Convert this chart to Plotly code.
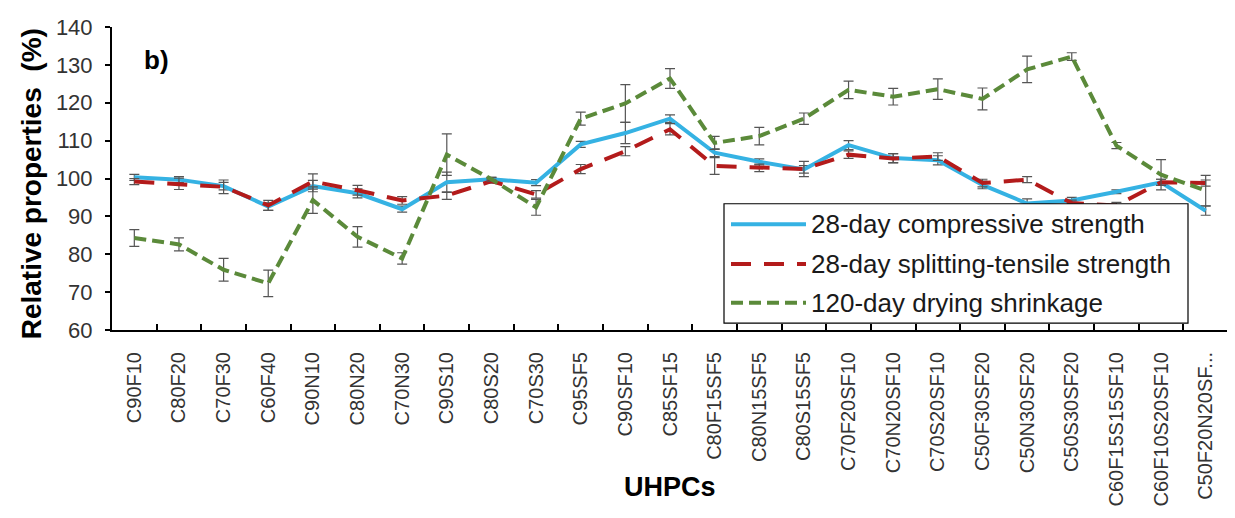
import plotly.graph_objects as go

categories = ["C90F10", "C80F20", "C70F30", "C60F40", "C90N10", "C80N20", "C70N30",
              "C90S10", "C80S20", "C70S30", "C95SF5", "C90SF10", "C85SF15",
              "C80F15SF5", "C80N15SF5", "C80S15SF5", "C70F20SF10", "C70N20SF10",
              "C70S20SF10", "C50F30SF20", "C50N30SF20", "C50S30SF20",
              "C60F15S15SF10", "C60F10S20SF10", "C50F20N20SF..."]

compressive = [100.3, 99.7, 98.0, 92.6, 98.0, 96.1, 91.9, 99.0, 99.8, 98.9, 109.0, 112.0, 115.8,
               106.8, 104.4, 102.4, 108.8, 105.4, 104.8, 98.3, 93.4, 94.2, 96.5, 99.0, 91.5]
compressive_err = [0.8, 0.8, 1.0, 1.0, 1.5, 1.2, 0.8, 2.7, 0.5, 0.8, 0.8, 2.8, 1.0,
                   1.0, 0.8, 1.0, 1.2, 1.2, 1.2, 1.0, 1.2, 0.8, 0.5, 0.8, 1.2]

tensile = [99.2, 98.6, 97.8, 92.9, 99.2, 96.9, 94.2, 95.5, 99.3, 95.8, 102.5, 107.2, 113.0,
           103.3, 102.8, 102.5, 106.3, 105.3, 105.8, 98.8, 99.7, 93.5, 92.9, 99.0, 98.8]
tensile_err = [0.8, 1.5, 1.8, 1.3, 2.0, 1.3, 1.0, 1.0, 0.5, 1.0, 1.2, 1.2, 1.5,
               2.2, 1.0, 2.0, 1.0, 1.2, 1.0, 1.0, 0.8, 0.8, 0.8, 0.8, 0.8]

shrinkage = [84.3, 82.6, 75.9, 72.3, 94.3, 84.6, 78.9, 106.3, 99.8, 92.4, 115.8, 119.8, 126.4,
             109.4, 111.2, 115.8, 123.4, 121.6, 123.6, 121.0, 128.8, 132.2, 108.7, 101.0, 96.8]
shrinkage_err = [2.2, 1.7, 3.0, 3.5, 3.5, 2.7, 1.5, 5.5, 0.5, 2.1, 1.7, 5.0, 2.6,
                 1.7, 2.3, 1.5, 2.3, 2.2, 2.7, 2.9, 3.5, 1.0, 0.8, 4.0, 4.0]

series_names = ["28-day compressive strength", "28-day splitting-tensile strength",
                "120-day drying shrinkage"]
y_ticks = [60, 70, 80, 90, 100, 110, 120, 130, 140]

colors = ["#35B2E3", "#B31B1B", "#5B8A3A"]
dashes = ["solid", "20px,13px", "12px,6px"]
FONT = "Arial, Liberation Sans, sans-serif"

fig = go.Figure()
for name, vals, errs, col, dash in zip(series_names, [compressive, tensile, shrinkage],
                                       [compressive_err, tensile_err, shrinkage_err],
                                       colors, dashes):
    fig.add_trace(go.Scatter(
        x=categories, y=vals, mode="lines", name=name,
        line=dict(color=col, width=4, dash=dash),
        error_y=dict(type="data", array=errs, visible=True, color="#555555",
                     thickness=1.2, width=5),
        showlegend=False,
    ))

# Geometry: the page body has an 8px default margin, so compensate.
OFF = 8
W, H = 1235 - OFF, 518 - OFF
ML, MR, MT, MB = 104, 7, 10, 188
PW, PH = W - ML - MR, H - MT - MB


def xp(px):
    return (px - OFF - ML) / PW


def yp(py):
    return (H - MB - (py - OFF)) / PH


shapes = []
annotations = []

# custom legend box
shapes.append(dict(type="rect", xref="paper", yref="paper", x0=xp(724), x1=xp(1188),
                   y0=yp(323), y1=yp(200), fillcolor="white",
                   line=dict(color="black", width=1.2), layer="above"))
rows = [221, 262, 302]
for name, col, dash, ry in zip(series_names, colors, dashes, rows):
    shapes.append(dict(type="line", xref="paper", yref="paper", x0=xp(731), x1=xp(806),
                       y0=yp(ry), y1=yp(ry), line=dict(color=col, width=4, dash=dash),
                       layer="above"))
    annotations.append(dict(text=name, xref="paper", yref="paper", x=xp(809), y=yp(ry),
                            xanchor="left", yanchor="middle", showarrow=False,
                            font=dict(family=FONT, size=26, color="#1a1a1a")))

annotations.append(dict(text="<b>b)</b>", xref="paper", yref="paper", x=xp(142), y=yp(52),
                        xanchor="left", yanchor="middle", showarrow=False,
                        font=dict(family=FONT, size=26, color="black")))
annotations.append(dict(text="<b>Relative properties \u00a0(%)</b>", xref="paper", yref="paper",
                        x=xp(31), y=yp(180), xanchor="center", yanchor="middle",
                        textangle=-90, showarrow=False,
                        font=dict(family=FONT, size=28, color="black")))
annotations.append(dict(text="<b>UHPCs</b>", xref="paper", yref="paper",
                        x=xp(670), y=yp(492), xanchor="center", yanchor="middle",
                        showarrow=False, font=dict(family=FONT, size=27, color="black")))

fig.update_layout(
    width=W, height=H,
    margin=dict(l=ML, r=MR, t=MT, b=MB),
    paper_bgcolor="white", plot_bgcolor="white",
    showlegend=False,
    shapes=shapes, annotations=annotations,
    xaxis=dict(type="category", range=[-0.5, len(categories) - 0.5],
               showline=True, linecolor="black", linewidth=2,
               ticks="inside", tickson="boundaries", ticklen=6, tickwidth=2,
               tickcolor="black", tickangle=-90, showgrid=False, zeroline=False,
               tickfont=dict(family=FONT, size=20, color="#333333"),
               ticklabelstandoff=12, ticklabeloverflow="allow"),
    yaxis=dict(range=[60, 140], tickvals=y_ticks, showline=True, linecolor="black",
               linewidth=2, ticks="outside", ticklen=5, tickwidth=2, tickcolor="black",
               showgrid=False, zeroline=False,
               tickfont=dict(family=FONT, size=22, color="#333333"),
               ticklabelstandoff=8, ticklabeloverflow="allow"),
)

fig.write_html("out.html")
